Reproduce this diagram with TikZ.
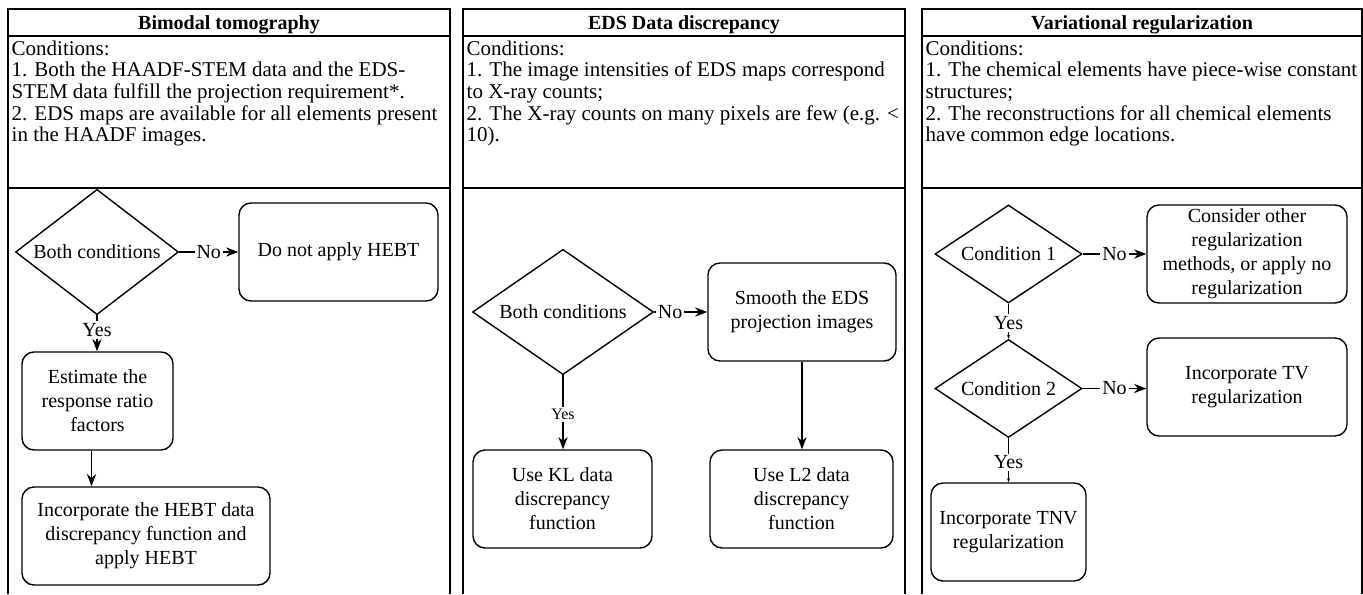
\documentclass[tikz,border=0pt]{standalone}
\usepackage{fontspec}
\setmainfont{Liberation Serif}
\usetikzlibrary{arrows.meta,shapes.geometric}

\begin{document}
\begin{tikzpicture}[x=0.5pt,y=-0.5pt,line width=0.7pt,
  head/.style={font=\fontsize{10}{12}\selectfont\bfseries},
  txt/.style={anchor=north west,align=left,inner sep=1pt,font=\fontsize{10.5}{10.8}\selectfont},
  box/.style={draw,rounded corners=6pt,align=center,minimum height=49pt,inner sep=1pt,font=\fontsize{10}{12}\selectfont},
  cond/.style={draw,diamond,inner sep=-2pt,align=center,font=\fontsize{10}{12}\selectfont},
  lab/.style={fill=white,inner sep=1pt,font=\fontsize{10}{12}\selectfont}]
\useasboundingbox(0,0)rectangle(1363,594);
\foreach \l/\r in {8/450,463/905,922/1362}{
  \draw[line width=1pt](\l,594)--(\l,9)--(\r,9)--(\r,594);
  \draw[line width=1pt](\l,36)--(\r,36)(\l,188)--(\r,188);
}
% Bimodal tomography
\node[head](t1)at(229,25){Bimodal tomography};
\node[txt](c1)at(9,38){Conditions:\\1. Both the HAADF-STEM data and the EDS-\\STEM data fulfill the projection requirement*.\\2. EDS maps are available for all elements present\\in the HAADF images.};
\node[cond,minimum width=81.5pt,minimum height=51pt](d1)at(97,252){Both conditions};
\node[box,minimum width=99.5pt](no1)at(338.5,252){Do not apply HEBT};
\node[box,minimum width=75.5pt](est)at(97.5,401){Estimate the\\response ratio\\factors};
\node[box,minimum width=124pt](heb)at(146,536){Incorporate the HEBT data\\discrepancy function and\\apply HEBT};
\draw[-Stealth](d1)--node[lab]{No}(no1);
\draw[-Stealth](d1.south)--node[lab,pos=0.41]{Yes}(d1.south|-est.north);
\draw[-Stealth]([xshift=-3pt]est.south)--([xshift=-3pt]est.south|-heb.north);
% EDS data discrepancy
\node[head](t2)at(684,25){EDS Data discrepancy};
\node[txt](c2)at(464,38){Conditions:\\1. The image intensities of EDS maps correspond\\to X-ray counts;\\2. The X-ray counts on many pixels are few (e.g. <\\10).};
\node[cond,minimum width=90.5pt,minimum height=61pt](d2)at(563,312){Both conditions};
\node[box,minimum width=94pt](smo)at(802,312){Smooth the EDS\\projection images};
\node[box,minimum width=89.5pt](kl)at(562.5,499){Use KL data\\discrepancy\\function};
\node[box,minimum width=91.5pt](ltwo)at(801.5,499){Use L2 data\\discrepancy\\function};
\draw[-Stealth](d2)--node[lab,pos=0.3]{No}(smo);
\draw[-Stealth](d2.south)--node[lab,pos=0.53,font=\fontsize{8}{9}\selectfont]{Yes}(d2.south|-kl.north);
\draw[-Stealth](smo.south)--(smo.south|-ltwo.north);
% Variational regularization
\node[head](t3)at(1142,25){Variational regularization};
\node[txt](c3)at(923,38){Conditions:\\1. The chemical elements have piece-wise constant\\structures;\\2. The reconstructions for all chemical elements\\have common edge locations.};
\node[cond,minimum width=73.5pt,minimum height=49pt](q1)at(1008.5,254){Condition 1};
\node[cond,minimum width=73.5pt,minimum height=49pt](q2)at(1008.5,388.5){Condition 2};
\node[box,minimum width=100pt](oth)at(1247,254){Consider other\\regularization\\methods, or apply no\\regularization};
\node[box,minimum width=100pt](tv)at(1247,387){Incorporate TV\\regularization};
\node[box,minimum width=77.5pt](tnv)at(1008.5,532){Incorporate TNV\\regularization};
\draw[-Stealth](q1)--node[lab]{No}(oth);
\draw[-Stealth](q2.east)--node[lab]{No}(q2.east-|tv.west);
\draw[-{Stealth[length=2pt]}](q1)--node[lab,pos=0.55]{Yes}(q2);
\draw[-{Stealth[length=2pt]}](q2)--node[lab,pos=0.55]{Yes}(tnv);
\end{tikzpicture}
\end{document}
